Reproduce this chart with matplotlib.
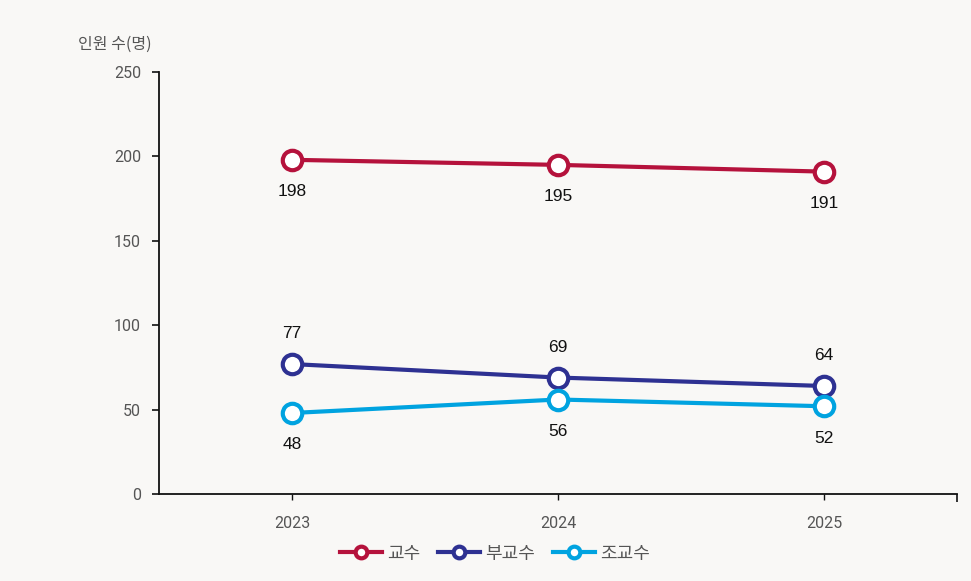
import matplotlib.pyplot as plt

plt.rcParams['font.family'] = ['Roboto', 'Noto Sans CJK KR', 'DejaVu Sans']

years = ['2023', '2024', '2025']
professor = [198, 195, 191]
associate = [77, 69, 64]
assistant = [48, 56, 52]

series = [
    ('교수', professor, '#B5123C', 'below'),
    ('부교수', associate, '#2E3192', 'above'),
    ('조교수', assistant, '#00A3E0', 'below'),
]

bg = '#F9F8F6'
fig = plt.figure(figsize=(9.71, 5.81), dpi=100, facecolor=bg)
ax = fig.add_axes([0.1638, 0.1497, 0.8218, 0.7263])
ax.set_facecolor(bg)

x = list(range(len(years)))
for name, vals, color, pos in series:
    ax.plot(x, vals, color=color, lw=3, marker='o', markersize=14,
            markerfacecolor='white', markeredgecolor=color, markeredgewidth=3,
            label=name, zorder=3)
    for xi, v in zip(x, vals):
        dy = -23 if pos == 'below' else 22
        ax.annotate(str(v), (xi, v), xytext=(0, dy), textcoords='offset points',
                    ha='center', va='center', fontsize=12.5, color='#111111',
                    family=['Liberation Sans', 'DejaVu Sans'])

ax.set_xlim(-0.5, 2.5)
ax.set_ylim(0, 250)
ax.set_xticks(x)
ax.set_xticklabels(years)
ax.set_xticks([2.5], minor=True)
ax.set_yticks(range(0, 251, 50))
ax.tick_params(axis='y', length=5, width=1.2, colors='#111111', labelcolor='#555555',
               labelsize=11.5, pad=8)
ax.tick_params(axis='x', which='major', length=4, width=1, colors='#111111',
               labelcolor='#555555', labelsize=11.5, pad=12)
ax.tick_params(axis='x', which='minor', length=6, width=1.2, colors='#111111')
for s in ['top', 'right']:
    ax.spines[s].set_visible(False)
for s in ['left', 'bottom']:
    ax.spines[s].set_linewidth(1.3)
    ax.spines[s].set_color('#111111')

fig.text(0.156, 0.923, '인원 수(명)', ha='right', va='center', fontsize=11.5, color='#555555',
         family=['Noto Sans CJK KR', 'DejaVu Sans'])

leg = fig.legend(loc='center', bbox_to_anchor=(0.51, 0.047), ncol=3, frameon=False,
                 handlelength=2.3, columnspacing=1.0, handletextpad=0.3,
                 markerscale=0.6, labelcolor='#555555',
                 prop={'family': ['Noto Sans CJK KR', 'DejaVu Sans'], 'size': 13})

fig.savefig('out.png', dpi=100, facecolor=bg)
